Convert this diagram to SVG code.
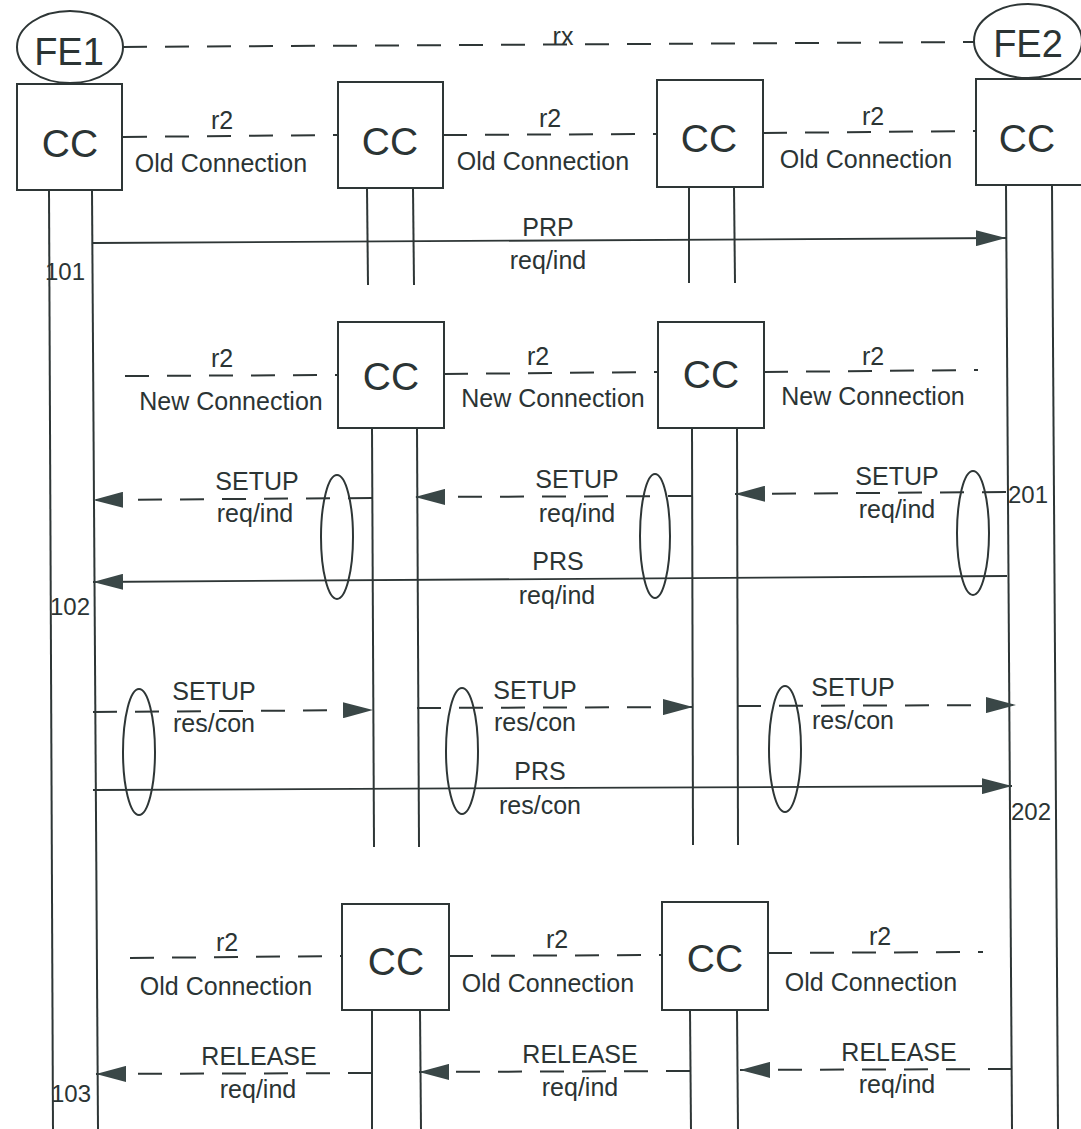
<svg xmlns="http://www.w3.org/2000/svg" width="1081" height="1129" viewBox="0 0 1081 1129">
<style>
.bg{fill:#fff}
.box{fill:#fff;stroke:#2e3636;stroke-width:2}
.ov{fill:none;stroke:#2e3636;stroke-width:2}
.ll{stroke:#2e3636;stroke-width:2;fill:none}
.dash{stroke:#2e3636;stroke-width:2;stroke-dasharray:24 18;fill:none}
.solid{stroke:#2e3636;stroke-width:1.8;fill:none}
.t{font-family:"Liberation Sans",Arial,sans-serif;font-size:25px;fill:#2b3434;text-anchor:middle}
.big{font-size:39px}
.fe{font-size:38px}
.num{font-size:24px;text-anchor:start}
</style>
<defs>
<marker id="ah" markerUnits="userSpaceOnUse" markerWidth="30" markerHeight="16" refX="30" refY="8" orient="auto" viewBox="0 0 30 16">
<path d="M0,0 L30,8 L0,16 z" fill="#3a4747"/>
</marker>
</defs>
<rect class="bg" x="0" y="0" width="1081" height="1129"/>

<g id="lifelines">
<line class="ll" x1="49" y1="190" x2="53" y2="1129"/>
<line class="ll" x1="92" y1="190" x2="98" y2="1129"/>
<line class="ll" x1="1006" y1="185" x2="1012" y2="1129"/>
<line class="ll" x1="1052" y1="185" x2="1058" y2="1129"/>
<line class="ll" x1="367" y1="188" x2="368" y2="285"/>
<line class="ll" x1="413" y1="188" x2="414" y2="285"/>
<line class="ll" x1="689" y1="187" x2="689" y2="283"/>
<line class="ll" x1="734" y1="187" x2="735" y2="283"/>
<line class="ll" x1="372" y1="428" x2="374" y2="847"/>
<line class="ll" x1="417" y1="428" x2="419" y2="847"/>
<line class="ll" x1="692" y1="428" x2="693" y2="845"/>
<line class="ll" x1="737" y1="428" x2="738" y2="845"/>
<line class="ll" x1="372" y1="1010" x2="372" y2="1129"/>
<line class="ll" x1="420" y1="1010" x2="421" y2="1129"/>
<line class="ll" x1="690" y1="1010" x2="691" y2="1129"/>
<line class="ll" x1="737" y1="1010" x2="738" y2="1129"/>
</g>

<g id="connectors">
<line class="dash" x1="123" y1="47" x2="975" y2="42"/>
<line class="dash" x1="123" y1="137" x2="338" y2="135"/>
<line class="dash" x1="443" y1="135" x2="657" y2="134"/>
<line class="dash" x1="763" y1="133" x2="976" y2="131"/>
<line class="solid" x1="93" y1="243" x2="1006" y2="238" marker-end="url(#ah)"/>
<line class="dash" x1="125" y1="376" x2="338" y2="375"/>
<line class="dash" x1="444" y1="374" x2="658" y2="372"/>
<line class="dash" x1="764" y1="372" x2="978" y2="370"/>
<line class="dash" x1="372" y1="498" x2="93" y2="500" marker-end="url(#ah)"/>
<line class="dash" x1="692" y1="496" x2="415" y2="497" marker-end="url(#ah)"/>
<line class="dash" x1="1006" y1="492" x2="735" y2="494" marker-end="url(#ah)"/>
<line class="solid" x1="1007" y1="576" x2="93" y2="582" marker-end="url(#ah)"/>
<line class="dash" x1="93" y1="712" x2="373" y2="710" marker-end="url(#ah)"/>
<line class="dash" x1="417" y1="708" x2="693" y2="707" marker-end="url(#ah)"/>
<line class="dash" x1="737" y1="706" x2="1016" y2="705" marker-end="url(#ah)"/>
<line class="solid" x1="93" y1="790" x2="1012" y2="786" marker-end="url(#ah)"/>
<line class="dash" x1="130" y1="958" x2="342" y2="956"/>
<line class="dash" x1="449" y1="956" x2="662" y2="955"/>
<line class="dash" x1="768" y1="953" x2="983" y2="952"/>
<line class="dash" x1="372" y1="1073" x2="96" y2="1074" marker-end="url(#ah)"/>
<line class="dash" x1="690" y1="1071" x2="419" y2="1072" marker-end="url(#ah)"/>
<line class="dash" x1="1012" y1="1069" x2="740" y2="1070" marker-end="url(#ah)"/>
<ellipse class="ov" cx="337" cy="537" rx="16" ry="62"/>
<ellipse class="ov" cx="655" cy="536" rx="15" ry="62"/>
<ellipse class="ov" cx="973" cy="533" rx="16" ry="62"/>
<ellipse class="ov" cx="139" cy="752" rx="16" ry="63"/>
<ellipse class="ov" cx="462" cy="751" rx="16" ry="63"/>
<ellipse class="ov" cx="785" cy="749" rx="16" ry="63"/>
</g>

<g id="labels">
<text class="t" x="563" y="45">rx</text>
<text class="t" x="222" y="129">r2</text>
<text class="t" x="221" y="172">Old Connection</text>
<text class="t" x="550" y="127">r2</text>
<text class="t" x="543" y="170">Old Connection</text>
<text class="t" x="873" y="125">r2</text>
<text class="t" x="866" y="168">Old Connection</text>
<text class="t" x="548" y="236">PRP</text>
<text class="t" x="548" y="269">req/ind</text>
<text class="t num" x="45" y="280">101</text>
<text class="t" x="222" y="367">r2</text>
<text class="t" x="231" y="410">New Connection</text>
<text class="t" x="538" y="365">r2</text>
<text class="t" x="553" y="407">New Connection</text>
<text class="t" x="873" y="365">r2</text>
<text class="t" x="873" y="405">New Connection</text>
<text class="t" x="257" y="490">SETUP</text>
<text class="t" x="255" y="522">req/ind</text>
<text class="t" x="577" y="488">SETUP</text>
<text class="t" x="577" y="522">req/ind</text>
<text class="t" x="897" y="485">SETUP</text>
<text class="t" x="897" y="518">req/ind</text>
<text class="t num" x="1008" y="503">201</text>
<text class="t" x="558" y="570">PRS</text>
<text class="t" x="557" y="604">req/ind</text>
<text class="t num" x="50" y="615">102</text>
<text class="t" x="214" y="700">SETUP</text>
<text class="t" x="214" y="732">res/con</text>
<text class="t" x="535" y="699">SETUP</text>
<text class="t" x="535" y="731">res/con</text>
<text class="t" x="853" y="696">SETUP</text>
<text class="t" x="853" y="729">res/con</text>
<text class="t" x="540" y="780">PRS</text>
<text class="t" x="540" y="814">res/con</text>
<text class="t num" x="1011" y="820">202</text>
<text class="t" x="227" y="951">r2</text>
<text class="t" x="226" y="995">Old Connection</text>
<text class="t" x="557" y="948">r2</text>
<text class="t" x="548" y="992">Old Connection</text>
<text class="t" x="880" y="945">r2</text>
<text class="t" x="871" y="991">Old Connection</text>
<text class="t" x="259" y="1065">RELEASE</text>
<text class="t" x="258" y="1098">req/ind</text>
<text class="t" x="580" y="1063">RELEASE</text>
<text class="t" x="580" y="1096">req/ind</text>
<text class="t" x="899" y="1061">RELEASE</text>
<text class="t" x="897" y="1093">req/ind</text>
<text class="t num" x="51" y="1102">103</text>
</g>

<g id="fe1">
<ellipse class="ov" cx="70" cy="47" rx="53" ry="36"/>
<text class="t fe" x="69" y="65">FE1</text>
</g>
<g id="fe2">
<ellipse class="ov" cx="1028" cy="41" rx="54" ry="37"/>
<text class="t fe" x="1028" y="57">FE2</text>
</g>
<g id="cc1">
<rect class="box" x="17" y="84" width="105" height="106"/>
<text class="t big" x="70" y="157">CC</text>
</g>
<g id="cc2">
<rect class="box" x="338" y="82" width="105" height="106"/>
<text class="t big" x="390" y="155">CC</text>
</g>
<g id="cc3">
<rect class="box" x="657" y="80" width="106" height="107"/>
<text class="t big" x="709" y="152">CC</text>
</g>
<g id="cc4">
<rect class="box" x="976" y="79" width="110" height="106"/>
<text class="t big" x="1027" y="152">CC</text>
</g>
<g id="cc5">
<rect class="box" x="338" y="322" width="106" height="106"/>
<text class="t big" x="391" y="390">CC</text>
</g>
<g id="cc6">
<rect class="box" x="658" y="322" width="106" height="106"/>
<text class="t big" x="711" y="388">CC</text>
</g>
<g id="cc7">
<rect class="box" x="342" y="904" width="107" height="106"/>
<text class="t big" x="396" y="975">CC</text>
</g>
<g id="cc8">
<rect class="box" x="662" y="902" width="106" height="108"/>
<text class="t big" x="715" y="972">CC</text>
</g>
</svg>
